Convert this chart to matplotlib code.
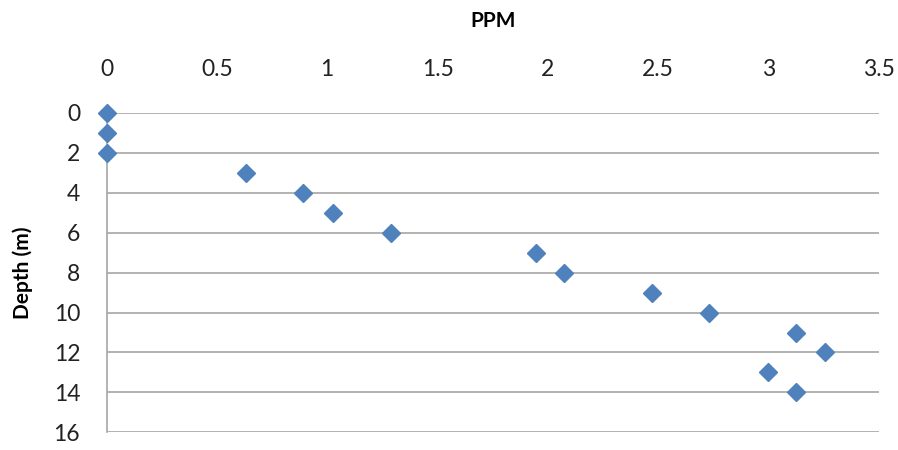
import matplotlib
matplotlib.use('Agg')
import matplotlib.pyplot as plt

ppm = [0, 0, 0, 0.63, 0.89, 1.025, 1.29, 1.945, 2.075, 2.47, 2.73, 3.125, 3.255, 2.995, 3.125]
depth = [0, 1, 2, 3, 4, 5, 6, 7, 8, 9, 10, 11, 12, 13, 14]
x_ticks = [0, 0.5, 1, 1.5, 2, 2.5, 3, 3.5]
y_ticks = [0, 2, 4, 6, 8, 10, 12, 14, 16]

plt.rcParams['font.family'] = ['Lato', 'DejaVu Sans']

fig = plt.figure(figsize=(8.98, 4.5), dpi=100)
ax = fig.add_axes([0.1186, 0.0393, 0.8602, 0.7096])

ax.plot(ppm, depth, linestyle='none', marker='D', markersize=9,
        color='#4F81BD', clip_on=False, zorder=3)

ax.set_xlim(0, 3.5)
ax.set_ylim(16, 0)
ax.set_xticks(x_ticks)
ax.set_xticklabels(['0', '0.5', '1', '1.5', '2', '2.5', '3', '3.5'])
ax.set_yticks(y_ticks)
ax.xaxis.tick_top()
ax.xaxis.set_label_position('top')
ax.tick_params(axis='x', length=0, pad=24, labelsize=16.5, colors='#222222')
ax.tick_params(axis='y', length=0, pad=19, labelsize=16.5, colors='#222222')

ax.yaxis.grid(True, color='#A6A6A6', linewidth=1.2)
ax.set_axisbelow(True)
for side in ['top', 'right', 'bottom']:
    ax.spines[side].set_visible(False)
ax.spines['left'].set_color('#A6A6A6')
ax.spines['left'].set_linewidth(1.2)

ax.set_xlabel('PPM', fontsize=15, fontweight='bold', labelpad=23)
ax.set_ylabel('Depth (m)', fontsize=15, fontweight='bold', labelpad=15)

fig.savefig('out.png', dpi=100)
